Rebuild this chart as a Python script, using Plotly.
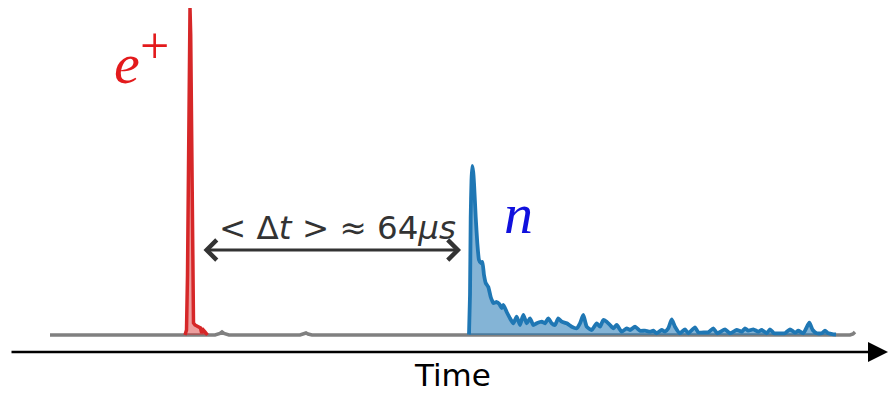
import plotly.graph_objects as go

# Time axis in arbitrary units (1 unit ~ 1 px), signal amplitude in arbitrary units
gray_x = [50, 120, 186, 215, 220, 222, 224, 229, 300, 304, 306, 308, 312, 400, 469, 836, 850, 853, 855]
gray_y = [0, 0, 0, 0, 1.5, 3, 1.5, 0, 0, 1, 2, 1, 0, 0, 0, 0, 0, 1, 3]

red_x = [185, 186.5, 187.5, 188.5, 189.3, 190, 190.7, 191.5, 192.5, 193.5, 195, 197, 199, 200.5, 201.7, 203.3, 205, 206.5, 207.5]
red_y = [0, 5, 60, 200, 300, 327, 300, 200, 60, 12, 10, 9, 8.3, 7, 2, 5, 3, 1, 0]

blue_x = [469, 470, 470.7, 471.5, 472.3, 473.2, 474, 475.7, 477.3, 479, 480.7, 482.3, 484, 485.7, 488.3, 490.7,
          493.3, 496.7, 499.3, 501.7, 503.3, 506.7, 510, 513.3, 516.7, 520, 523.3, 526.7, 530, 533.3,
          536.7, 541.7, 545, 548.3, 551.7, 555, 558.3, 561.7, 566.7, 571.7, 576.7, 580, 583.3, 586.7,
          591.7, 596.7, 600, 603.3, 606.7, 610, 613.3, 616.7, 621.7, 626.7, 630, 635, 640, 645, 650,
          653.3, 656.7, 661.7, 665, 668.3, 671.7, 675, 680, 685, 688.3, 695, 698.3, 705, 708.3, 713.3,
          717.3, 725, 730, 736.7, 741.7, 745, 748.3, 753.3, 758.3, 761.7, 766.7, 770, 774, 780, 785,
          790, 795, 798.3, 803.3, 809.3, 812.7, 816.7, 821.7, 825, 828.3, 833.3, 836]
blue_y = [0.5, 40, 118, 155, 169, 163, 152, 118, 92, 75, 72, 73, 60, 52, 48, 38,
          32, 33, 31, 27, 30, 23, 16.7, 11.7, 18.3, 10, 20, 11.7, 16.7, 10,
          11.7, 13.3, 11.7, 16.7, 11.7, 10, 16.7, 13.3, 11.7, 8.3, 6.7, 11.7, 20, 8.3,
          5, 11.7, 8.3, 15, 13.3, 10, 6.7, 10, 3.3, 6.7, 5, 8.3, 4.3, 4.3, 3.3,
          4.3, 1.7, 5, 3.3, 6.7, 15.7, 8.3, 1.7, 5.7, 1.7, 7.7, 2.7, 2.7, 2.7, 6.7,
          1.7, 5.7, 1.7, 5, 3.3, 6.7, 4.3, 5.7, 3.3, 5, 1.7, 5.7, 1.7, 1.7, 1.7,
          5.7, 2.3, 4.3, 1.7, 12.3, 5, 1.7, 1.7, 4.3, 1.7, 0.7, 0.5]

delta_label = "< Δ<i>t</i> > ≈ 64<i>μs</i>"
axis_label = "Time"

RED = "#d62728"
BLUE = "#1f77b4"
GRAY = "#808080"
DARK = "#333333"

fig = go.Figure()
fig.add_trace(go.Scatter(x=gray_x, y=gray_y, mode="lines",
                         line=dict(color=GRAY, width=3.5), hoverinfo="skip"))
fig.add_trace(go.Scatter(x=red_x, y=red_y, mode="lines", fill="tozeroy",
                         fillcolor="rgba(214,39,40,0.45)",
                         line=dict(color=RED, width=3.5), hoverinfo="skip"))
fig.add_trace(go.Scatter(x=blue_x, y=blue_y, mode="lines", fill="tozeroy",
                         fillcolor="rgba(31,119,180,0.55)",
                         line=dict(color=BLUE, width=3.8, shape="spline", smoothing=0.5),
                         hoverinfo="skip"))

# Time axis arrow
fig.add_annotation(x=888, y=-17, ax=10, ay=-17, xref="x", yref="y", axref="x", ayref="y",
                   text="", showarrow=True, arrowhead=2, arrowsize=1.6, arrowwidth=2.5,
                   arrowcolor="black", standoff=0)
fig.add_annotation(x=452, y=-59, xref="x", yref="y", yanchor="bottom", text=axis_label,
                   showarrow=False, borderpad=0,
                   font=dict(family="DejaVu Sans", size=31, color="black"))

# Delta t double arrow
fig.add_annotation(x=461, y=85, ax=202, ay=85, xref="x", yref="y", axref="x", ayref="y",
                   text="", showarrow=True, arrowhead=4, startarrowhead=4, arrowside="end+start",
                   arrowsize=1.3, startarrowsize=1.3, arrowwidth=3, arrowcolor=DARK,
                   standoff=0, startstandoff=0)
fig.add_annotation(x=337, y=107, xref="x", yref="y", text=delta_label, showarrow=False,
                   font=dict(family="DejaVu Sans", size=32.5, color=DARK))

# Labels
fig.add_annotation(x=127, y=272, xref="x", yref="y", text="<i>e</i>", showarrow=False,
                   font=dict(family="Liberation Serif", size=58, color="#e31a1c"))
fig.add_annotation(x=154, y=290, xref="x", yref="y", text="+", showarrow=False,
                   font=dict(family="Liberation Serif", size=52, color="#e31a1c"))
fig.add_annotation(x=518, y=122, xref="x", yref="y", text="<i>n</i>", showarrow=False,
                   font=dict(family="Liberation Serif", size=58, color="#1010dd"))

fig.update_layout(width=889, height=394, margin=dict(l=0, r=0, t=0, b=0),
                  paper_bgcolor="white", plot_bgcolor="white", showlegend=False,
                  xaxis=dict(range=[0, 889], visible=False, fixedrange=True),
                  yaxis=dict(range=[-59, 335], visible=False, fixedrange=True))

fig.write_html("out.html")
